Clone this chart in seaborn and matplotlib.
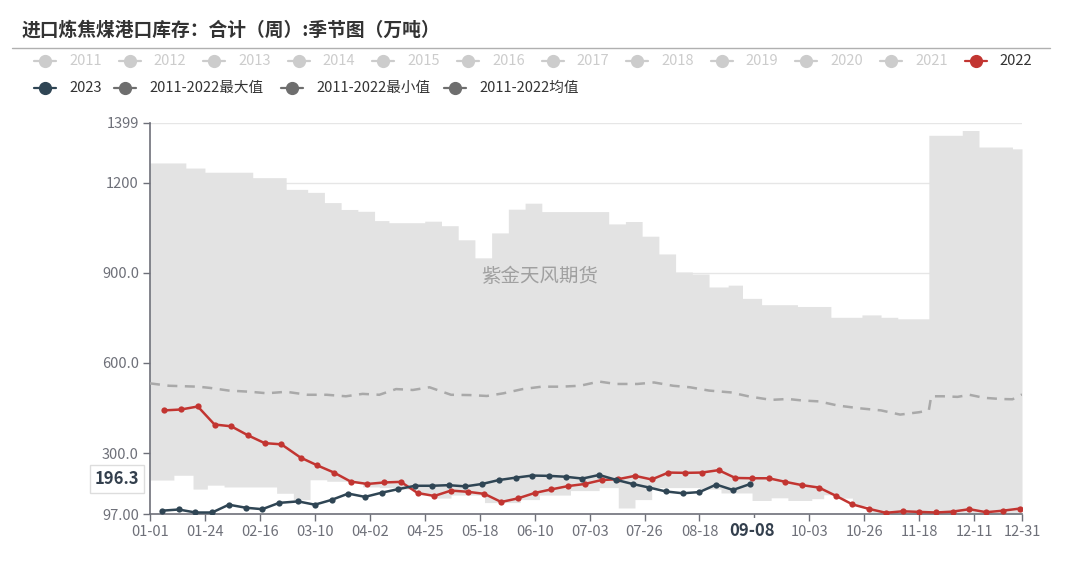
import numpy as np
import pandas as pd
import matplotlib
matplotlib.use('Agg')
import matplotlib.pyplot as plt
from matplotlib.lines import Line2D
import seaborn as sns

sns.set_theme(style='white')
plt.rcParams['font.family'] = ['Noto Sans CJK SC', 'DejaVu Sans']

# 进口炼焦煤港口库存 (万吨), 周度
vals_2022 = [442, 445, 455, 395, 389, 359, 333, 329, 285, 259, 235, 205, 197,
             202, 204, 167, 157, 175, 171, 164, 137, 149, 167, 179, 190, 197,
             210, 213, 224, 212, 235, 234, 235, 243, 217, 216, 216, 204, 193,
             185, 158, 129, 114, 101, 106, 104, 102, 105, 113, 103, 108, 115]
vals_2023 = [108, 112, 102, 102, 128, 118, 113, 134, 139, 128, 144, 165, 154,
             168, 180, 191, 191, 193, 189, 197, 210, 218, 225, 224, 221, 215,
             227, 211, 197, 185, 172, 166, 170, 195, 177, 196.3]
dates_2022 = pd.date_range('2022-01-07', periods=len(vals_2022), freq='7D')
dates_2023 = pd.date_range('2023-01-06', periods=len(vals_2023), freq='7D')

# 2011-2022 最大值 / 最小值 (阶梯), 横轴为闰年日序
max_days = [0, 15, 23, 43, 57, 66, 73, 80, 87, 94, 100, 115, 122, 129, 136, 143,
            150, 157, 164, 192, 199, 206, 213, 220, 227, 234, 242, 248, 256, 271,
            285, 298, 306, 313, 326, 340, 347, 361, 365]
max_vals = [1266, 1249, 1235, 1217, 1178, 1168, 1134, 1111, 1105, 1074, 1067,
            1072, 1057, 1010, 950, 1033, 1112, 1132, 1104, 1063, 1071, 1022, 963,
            903, 896, 853, 859, 815, 794, 788, 752, 760, 752, 747, 1358, 1374,
            1319, 1313, 1313]
min_days = [0, 10, 18, 24, 31, 53, 60, 67, 74, 82, 89, 96, 105, 112, 119, 126,
            140, 155, 163, 176, 188, 196, 203, 210, 230, 239, 252, 260, 267, 277,
            282, 288, 294, 301, 310, 365]
min_vals = [210, 226, 180, 193, 187, 166, 145, 211, 206, 205, 187, 185, 180, 160,
            150, 160, 135, 145, 160, 175, 185, 117, 145, 185, 180, 167, 142, 151,
            142, 148, 161, 150, 125, 100, 97, 97]

# 2011-2022 均值
mean_days = [0, 8, 20, 25, 33, 42, 49, 57, 66, 74, 82, 89, 96, 103, 110, 117, 126,
             134, 141, 148, 156, 164, 172, 180, 188, 195, 204, 211, 219, 226, 234,
             243, 251, 260, 267, 273, 280, 288, 293, 297, 306, 314, 322, 326, 327,
             332, 338, 343, 349, 356, 361, 365]
mean_vals = [532, 524, 521, 517, 508, 504, 499, 504, 494, 494, 489, 497, 494, 513,
             510, 519, 494, 493, 490, 499, 513, 521, 521, 524, 538, 530, 530, 535,
             524, 519, 508, 502, 488, 477, 480, 475, 472, 458, 453, 449, 442, 428,
             436, 442, 489, 489, 487, 494, 484, 480, 479, 495]

# 09-10 的刻度标签被 09-08 指示标签遮住
tick_days = [0, 23, 46, 69, 92, 115, 138, 161, 184, 207, 230, 253, 276, 299, 322, 345, 365]
tick_labels = ['01-01', '01-24', '02-16', '03-10', '04-02', '04-25', '05-18', '06-10',
               '07-03', '07-26', '08-18', '', '10-03', '10-26', '11-18', '12-11', '12-31']
ytick_vals = [97, 300, 600, 900, 1200, 1399]
ytick_labels = ['97.00', '300.0', '600.0', '900.0', '1200', '1399']
legend_years = ['2011', '2012', '2013', '2014', '2015', '2016', '2017', '2018',
                '2019', '2020', '2021', '2022']


def day_idx(dates):
    return [(pd.Timestamp(2020, d.month, d.day) - pd.Timestamp(2020, 1, 1)).days for d in dates]


df = pd.concat([
    pd.DataFrame({'day': day_idx(dates_2022), 'value': vals_2022, 'series': '2022'}),
    pd.DataFrame({'day': day_idx(dates_2023), 'value': vals_2023, 'series': '2023'}),
])

W, H = 1080, 566
fig = plt.figure(figsize=(W / 100, H / 100), dpi=100)
ax = fig.add_axes([150 / W, 1 - 514 / H, 872 / W, 391 / H])

# 区间填充
env = pd.DataFrame({'day': np.arange(366)})
env['max'] = pd.Series(max_vals, index=max_days).reindex(env['day']).ffill().values
env['min'] = pd.Series(min_vals, index=min_days).reindex(env['day']).ffill().values
ax.fill_between(env['day'], env['min'], env['max'], step='post', color='#e3e3e3', lw=0, zorder=1)

ax.plot(mean_days, mean_vals, color='#a9a9a9', lw=1.8, dashes=(4, 3), zorder=3)

sns.lineplot(data=df, x='day', y='value', hue='series',
             palette={'2022': '#c23531', '2023': '#2f4554'},
             marker='o', markersize=4.5, markeredgewidth=0, linewidth=1.8,
             legend=False, ax=ax, zorder=4)

ax.set_xlim(0, 365)
ax.set_ylim(97, 1399)
ax.set_xticks(tick_days)
ax.set_xticklabels(tick_labels)
ax.set_yticks(ytick_vals)
ax.set_yticklabels(ytick_labels)
ax.set_xlabel('')
ax.set_ylabel('')
for v in ytick_vals[1:]:
    ax.axhline(v, color='#e6e6e6', lw=1, zorder=0.5)
for s in ['top', 'right']:
    ax.spines[s].set_visible(False)
for s in ['left', 'bottom']:
    ax.spines[s].set_color('#6e7079')
    ax.spines[s].set_linewidth(1.2)
ax.tick_params(axis='both', colors='#6e7079', labelcolor='#6e7079', labelsize=10.5,
               length=5, width=1, direction='out', left=True, bottom=True)
ax.tick_params(axis='x', pad=3)
ax.tick_params(axis='y', pad=3)
ax.set_facecolor('none')
ax.grid(False)

# 水印
fig.text(540 / W, 1 - 276 / H, '紫金天风期货', color='#a0a0a0', fontsize=14,
         ha='center', va='center')

# 标题
fig.text(22 / W, 1 - 30 / H, '进口炼焦煤港口库存：合计（周）:季节图（万吨）',
         fontsize=13.5, fontweight='bold', color='#333333', ha='left', va='center')
fig.add_artist(Line2D([12 / W, 1050 / W], [1 - 47.5 / H, 1 - 47.5 / H],
                      color='#b0b0b0', lw=1))


# 图例
def legend_item(cx, py, label, icon_color, text_color):
    fy = 1 - py / H
    fig.add_artist(Line2D([(cx - 11) / W, (cx + 11) / W], [fy, fy], color=icon_color, lw=1.6))
    fig.add_artist(Line2D([cx / W], [fy], marker='o', markersize=8.5, color=icon_color, lw=0))
    fig.text((cx + 24) / W, fy, label, color=text_color, fontsize=10.5, ha='left', va='center')


for i, yr in enumerate(legend_years):
    cx = 45 + i * 84.6
    if yr == '2022':
        legend_item(cx, 61, yr, '#c23531', '#333333')
    else:
        legend_item(cx, 61, yr, '#cccccc', '#cccccc')
legend_item(45, 88, '2023', '#2f4554', '#333333')
legend_item(125, 88, '2011-2022最大值', '#6e6e6e', '#333333')
legend_item(292, 88, '2011-2022最小值', '#6e6e6e', '#333333')
legend_item(455, 88, '2011-2022均值', '#6e6e6e', '#333333')

# 坐标轴指示标签
fig.text(117 / W, 1 - 479 / H, '196.3', fontsize=12, fontweight='bold', color='#333f4d',
         ha='center', va='center',
         bbox=dict(boxstyle='square,pad=0.3', fc='white', ec='#dddddd', lw=1))
fig.text(752 / W, 1 - 531 / H, '09-08', fontsize=12, fontweight='bold', color='#333f4d',
         ha='center', va='center',
         bbox=dict(boxstyle='square,pad=0.25', fc='white', ec='none'))

fig.savefig('out.png', dpi=100, facecolor='white')
